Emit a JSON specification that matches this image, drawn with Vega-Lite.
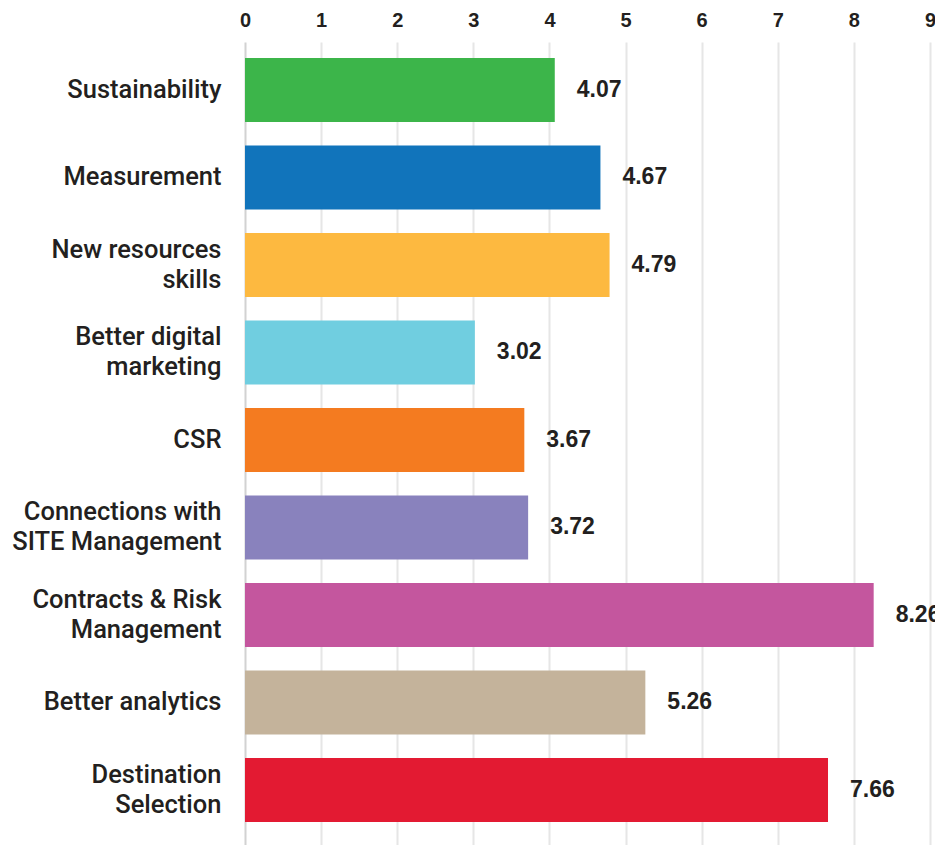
{
  "$schema": "https://vega.github.io/schema/vega-lite/v6.json",
  "width": 685,
  "height": 803,
  "autosize": {"type": "none"},
  "padding": {"left": 245, "top": 42, "right": 5, "bottom": 0},
  "background": "white",
  "config": {
    "view": {"stroke": null},
    "font": "Liberation Sans"
  },
  "data": {
    "values": [
      {"label": "Sustainability", "value": 4.07, "color": "#3cb54a"},
      {"label": "Measurement", "value": 4.67, "color": "#1174bb"},
      {"label": "New resources|skills", "value": 4.79, "color": "#fdb940"},
      {"label": "Better digital|marketing", "value": 3.02, "color": "#70cee0"},
      {"label": "CSR", "value": 3.67, "color": "#f47b20"},
      {"label": "Connections with|SITE Management", "value": 3.72, "color": "#8982bd"},
      {"label": "Contracts & Risk|Management", "value": 8.26, "color": "#c4569e"},
      {"label": "Better analytics", "value": 5.26, "color": "#c4b39b"},
      {"label": "Destination|Selection", "value": 7.66, "color": "#e31a32"}
    ]
  },
  "encoding": {
    "y": {
      "field": "label",
      "type": "nominal",
      "sort": null,
      "scale": {"paddingInner": 0.27, "paddingOuter": 0.2235, "align": 0.41},
      "axis": {
        "title": null,
        "domain": false,
        "ticks": false,
        "grid": false,
        "labelExpr": "split(datum.label, '|')",
        "labelFont": "Roboto",
        "labelFontWeight": 500,
        "labelFontSize": 25.5,
        "labelColor": "#231f20",
        "labelPadding": 24,
        "labelLineHeight": 30,
        "labelLimit": 300,
        "labelOffset": {"condition": {"test": "indexof(datum.value, '|') >= 0", "value": -15}, "value": 0}
      }
    },
    "x": {
      "field": "value",
      "type": "quantitative",
      "scale": {"domain": [0, 9], "nice": false},
      "axis": {
        "orient": "top",
        "title": null,
        "domain": false,
        "ticks": false,
        "values": [0, 1, 2, 3, 4, 5, 6, 7, 8, 9],
        "labelFontSize": 20,
        "labelFontWeight": "bold",
        "labelColor": "#231f20",
        "labelPadding": 12,
        "labelFlush": false,
        "labelOverlap": false,
        "grid": true,
        "gridWidth": 2,
        "gridColor": {"condition": {"test": "datum.value === 0", "value": "#d2d2d2"}, "value": "#e6e6e6"}
      }
    }
  },
  "layer": [
    {
      "mark": {"type": "bar"},
      "encoding": {
        "color": {"field": "color", "type": "nominal", "scale": null, "legend": null}
      }
    },
    {
      "mark": {"type": "text", "align": "left", "baseline": "middle", "dx": 22, "fontSize": 23, "fontWeight": "bold", "color": "#231f20"},
      "encoding": {
        "text": {"field": "value", "type": "quantitative", "format": ".2f"}
      }
    }
  ]
}
